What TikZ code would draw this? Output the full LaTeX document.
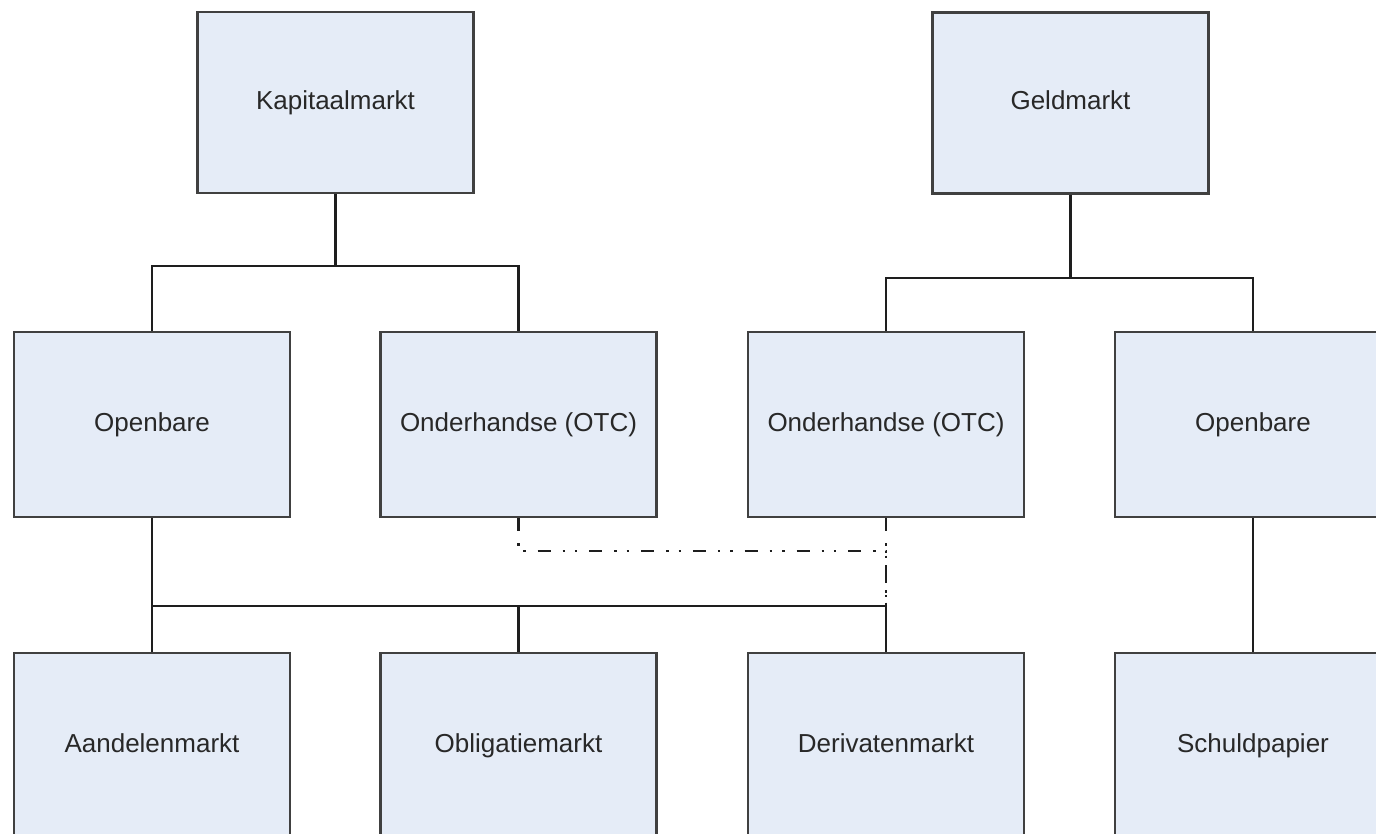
\documentclass[tikz,border=0pt]{standalone}
\usepackage{fontspec}
\setmainfont{Liberation Sans}
\definecolor{boxfill}{RGB}{229,236,247}
\definecolor{boxline}{RGB}{64,64,64}
\definecolor{connline}{RGB}{30,30,30}
\definecolor{txt}{RGB}{40,40,40}
\begin{document}
\begin{tikzpicture}[x=0.5pt,y=-0.5pt,
  mbox/.style={draw=boxline,line width=1.2pt,fill=boxfill,inner sep=0pt,
    minimum width=138pt,text=txt,text height=9.4pt,text depth=2.8pt,
    font=\fontsize{13pt}{15pt}\selectfont},
  topbox/.style={mbox,minimum height=90.5pt},
  rowbox/.style={mbox,minimum height=92.5pt},
  conn/.style={draw=connline,line width=1.05pt},
  dashdot/.style={draw=connline,line width=1.05pt,
    dash pattern=on 6.5pt off 6pt on 1.2pt off 5pt on 1.2pt off 6pt}]
\useasboundingbox (0,0) rectangle (1376,834);
\fill[white] (0,0) rectangle (1376,834);
% top row
\node[topbox] (kap) at (335.5,102.5) {Kapitaalmarkt};
\node[topbox] (geld) at (1070.5,103) {Geldmarkt};
% middle row
\node[rowbox] (ob1) at (152,424.5) {Openbare};
\node[rowbox] (ond1) at (518.5,424.5) {Onderhandse (OTC)};
\node[rowbox] (ond2) at (886,424.5) {Onderhandse (OTC)};
\node[rowbox] (ob2) at (1253,424.5) {Openbare};
% bottom row
\node[rowbox] (aand) at (152,745.5) {Aandelenmarkt};
\node[rowbox] (oblig) at (518.5,745.5) {Obligatiemarkt};
\node[rowbox] (deriv) at (886,745.5) {Derivatenmarkt};
\node[rowbox] (schuld) at (1253,745.5) {Schuldpapier};
% connector junctions
\coordinate (kj) at (335.5,266);
\coordinate (gj) at (1070.5,278);
\coordinate (bj) at (152,606);
\coordinate (dj) at (518.5,551);
% dash-dot connectors (OTC to Derivatenmarkt)
\draw[dashdot] (ond1.south) -- (ond1.south |- dj) -| (deriv.north |- bj);
\draw[dashdot] (ond2.south) -- (deriv.north |- bj);
% Kapitaalmarkt tree
\draw[conn] (kap.south) -- (kj);
\draw[conn] (kj) -| (ob1.north);
\draw[conn] (kj) -| (ond1.north);
% Geldmarkt tree
\draw[conn] (geld.south) -- (gj);
\draw[conn] (gj) -| (ond2.north);
\draw[conn] (gj) -| (ob2.north);
% Openbare (Kapitaalmarkt) to markets
\draw[conn] (ob1.south) -- (bj);
\draw[conn] (bj) -- (aand.north);
\draw[conn] (bj) -| (oblig.north);
\draw[conn] (bj) -| (deriv.north);
% Openbare (Geldmarkt) to Schuldpapier
\draw[conn] (ob2.south) -- (schuld.north);
\end{tikzpicture}
\end{document}
